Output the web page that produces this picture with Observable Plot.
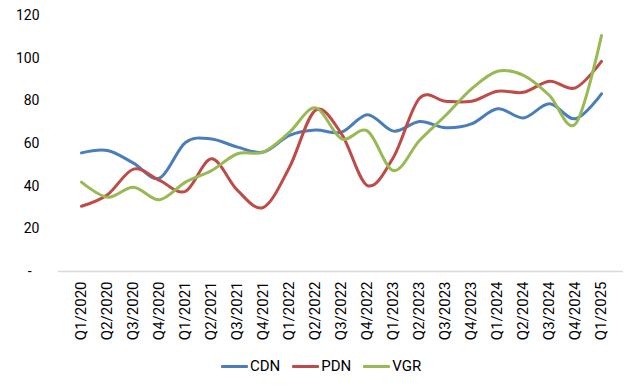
<!DOCTYPE html>
<html><head><meta charset="utf-8">
<script src="https://cdn.jsdelivr.net/npm/d3@7"></script>
<script src="https://cdn.jsdelivr.net/npm/@observablehq/plot@0.6"></script>
<style>
body{margin:0;background:#fff;font-family:Roboto,sans-serif;}
#chart svg{display:block;}
#chart svg g[aria-label="x-axis tick label"] text{font-size:15px;}
#legend{display:flex;justify-content:center;align-items:center;height:22px;margin-top:0;padding-left:4px;font-size:15px;color:#000;}
.item{display:flex;align-items:center;margin:0 6px;}
.sw{width:27px;height:3px;margin-right:2px;border-radius:1px;}
</style></head><body><div id="chart"></div><div id="legend"></div>
<script>
const quarters = ["Q1/2020","Q2/2020","Q3/2020","Q4/2020","Q1/2021","Q2/2021","Q3/2021","Q4/2021","Q1/2022","Q2/2022","Q3/2022","Q4/2022","Q1/2023","Q2/2023","Q3/2023","Q4/2023","Q1/2024","Q2/2024","Q3/2024","Q4/2024","Q1/2025"];
const cdn = [55.6,56.7,50.8,43.8,60.5,62.1,58.3,56,63.8,66.3,65.3,73.5,65.8,70.3,67.4,69.2,76.3,72,78.6,71.6,83.3];
const pdn = [30.6,36,48,42.7,37.6,52.8,38,30.1,48.9,75.6,64.5,40.3,53.6,81.2,79.8,79.8,84.5,84,89.2,86.1,98.5];
const vgr = [41.9,34.8,39.5,33.6,41.9,47.3,55.2,56,65.3,76.7,62.2,65.8,47.3,61.4,73.1,85.6,93.9,91.9,82.5,69.2,110.6];
const seriesNames = ["CDN","PDN","VGR"];
const seriesColors = ["#4a7ebb","#be4b48","#98b954"];
const yTicks = [0,20,40,60,80,100,120];

const seriesValues = [cdn, pdn, vgr];
const data = [];
seriesNames.forEach((s, i) => quarters.forEach((q, j) => data.push({series: s, quarter: q, value: seriesValues[i][j]})));

const chart = Plot.plot({
  width: 638, height: 355,
  marginLeft: 58, marginRight: 15, marginTop: 15, marginBottom: 84,
  style: {fontFamily: "Roboto, sans-serif", fontSize: "14px", color: "#000", background: "#fff"},
  x: {type: "point", domain: quarters, padding: 0.5, label: null, tickRotate: -90, tickSize: 0, tickPadding: 10},
  y: {domain: [0, 120], ticks: yTicks, label: null, tickSize: 0, tickPadding: 19,
      tickFormat: d => d === 0 ? "-\u2007" : String(d)},
  color: {domain: seriesNames, range: seriesColors},
  marks: [
    Plot.ruleY([0], {stroke: "#d9d9d9", strokeWidth: 1.3}),
    Plot.line(data, {x: "quarter", y: "value", z: "series", stroke: "series", strokeWidth: 3, curve: "cardinal"})
  ]
});
document.getElementById("chart").appendChild(chart);

const legend = document.getElementById("legend");
seriesNames.forEach((s, i) => {
  const it = document.createElement("div"); it.className = "item";
  const sw = document.createElement("div"); sw.className = "sw"; sw.style.background = seriesColors[i];
  const t = document.createElement("span"); t.textContent = s;
  it.appendChild(sw); it.appendChild(t); legend.appendChild(it);
});
</script></body></html>
